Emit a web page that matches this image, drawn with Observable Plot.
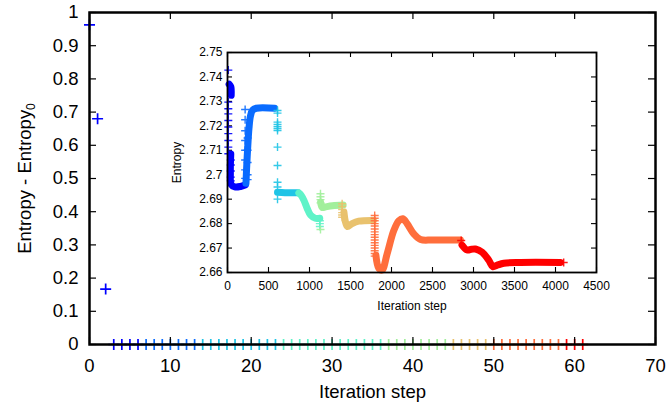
<!DOCTYPE html>
<html><head><meta charset="utf-8">
<script src="https://cdn.jsdelivr.net/npm/d3@7"></script>
<script src="https://cdn.jsdelivr.net/npm/@observablehq/plot@0.6"></script>
<style>
body{margin:0;background:#fff;}
.layer{position:absolute;left:0;top:0;width:668px;height:403px;}
</style></head><body>
<div class="layer" id="mainLayer"></div>
<div class="layer" id="frameLayer"></div>
<div class="layer" id="insetLayer"></div>
<script>
// ---- colours per phase ----
const phaseColors = ["#0000ff","#0a6cff","#1ec4e6","#5ff3c8","#a2ef9c","#e9c26e","#ff6e3c","#ff0000"];

// ---- main plot data ----
const mainIteration = [0,1,2,3,4,5,6,7,8,9,10,11,12,13,14,15,16,17,18,19,20,21,22,23,24,25,26,27,28,29,30,31,32,33,34,35,36,37,38,39,40,41,42,43,44,45,46,47,48,49,50,51,52,53,54,55,56,57,58,59,60,61];
const mainDelta = [0.963,0.680,0.167,0,0,0,0,0,0,0,0,0,0,0,0,0,0,0,0,0,0,0,0,0,0,0,0,0,0,0,0,0,0,0,0,0,0,0,0,0,0,0,0,0,0,0,0,0,0,0,0,0,0,0,0,0,0,0,0,0,0,0];
const mainPhase = [0,0,0,0,0,0,0,1,1,1,1,1,1,1,2,2,2,2,2,2,2,2,2,2,3,3,3,3,3,3,3,3,3,3,3,3,3,4,4,4,4,4,4,4,4,5,5,5,5,5,6,6,6,6,6,6,6,6,6,7,7,7];
const mainXDomain = [0,70];
const mainYDomain = [0,1];
const mainXTicks = [0,10,20,30,40,50,60,70];
const mainYTicks = [0,0.1,0.2,0.3,0.4,0.5,0.6,0.7,0.8,0.9,1];

// ---- inset data: thick curve pieces [step, entropy] ----
const curve0a = [[20,2.7370],[40,2.7360],[45,2.7325]];
const curve0b = [[40,2.7085],[35,2.7010],[45,2.6960],[90,2.6950],[160,2.6952],[215,2.6958]];
const curve1 = [[225,2.6965],[235,2.7040],[248,2.7120],[262,2.7190],[280,2.7240],[305,2.7264],[350,2.7272],[575,2.7272]];
const curve2 = [[610,2.6928],[700,2.6926],[860,2.6926]];
const curve3 = [[870,2.6925],[900,2.6915],[935,2.6893],[972,2.6862],[1012,2.6835],[1070,2.6822],[1125,2.6822]];
const curve4 = [[1135,2.6888],[1155,2.6866],[1190,2.6868],[1280,2.6873],[1410,2.6876]];
const curve5 = [[1420,2.6847],[1440,2.6805],[1462,2.6788],[1520,2.6800],[1600,2.6810],[1780,2.6813]];
const curve6 = [[1810,2.6670],[1845,2.6617],[1885,2.6610],[1947,2.6677],[2028,2.6772],[2090,2.6812],[2138,2.6820],[2190,2.6800],[2272,2.6758],[2354,2.6735],[2500,2.6733],[2840,2.6733]];
const curve7 = [[2860,2.6712],[2923,2.6692],[2975,2.6695],[3024,2.6696],[3106,2.6683],[3187,2.6650],[3235,2.6624],[3289,2.6630],[3370,2.6638],[3573,2.6641],[4060,2.6641]];
const curvePieces = [curve0a,curve0b,curve1,curve2,curve3,curve4,curve5,curve6,curve7];
const curvePhase = [0,0,1,2,3,4,5,6,7];

// ---- inset data: scattered crosses (step, entropies) ----
const crossStep = [10,40,215,245,610,1126,1134,1398,1795,2850,4100];
const crossPhase = [0,0,1,1,2,3,4,5,6,7,7];
const crossValues = [
  [2.7428,2.7297,2.7270,2.7249,2.7222,2.7195,2.7168,2.7140,2.7113,2.7086],
  [2.7060,2.7040,2.7015,2.6990,2.6975],
  [2.7267,2.7225,2.7180,2.7140,2.7100,2.7060,2.7020,2.6985],
  [2.7150,2.7100,2.7050,2.7000,2.6980],
  [2.7263,2.7252,2.7215,2.7206,2.7197,2.7189,2.7181,2.7113,2.7038,2.6969,2.6950,2.6900],
  [2.6812,2.6800,2.6788],
  [2.6922,2.6910,2.6898,2.6885,2.6776],
  [2.6881,2.6870,2.6858,2.6845,2.6835,2.6826],
  [2.6833,2.6822,2.6812,2.6800,2.6790,2.6778,2.6766,2.6755,2.6744,2.6733,2.6722,2.6711,2.6700,2.6689,2.6678,2.6667],
  [2.6731],
  [2.6641]
];
const insetXDomain = [0,4500];
const insetYDomain = [2.66,2.75];
const insetXTicks = [0,500,1000,1500,2000,2500,3000,3500,4000,4500];
const insetYTicks = [2.66,2.67,2.68,2.69,2.7,2.71,2.72,2.73,2.74,2.75];

// ---- helpers ----
const plus = {draw(ctx, size){const r=Math.sqrt(size/Math.PI);ctx.moveTo(-r,0);ctx.lineTo(r,0);ctx.moveTo(0,-r);ctx.lineTo(0,r);}};
const phaseDomain = [0,1,2,3,4,5,6,7];
const FONT = "'Liberation Sans', Arial, Helvetica, sans-serif";
const W = 668, H = 403;
const mL=89, mR=13, mT=12, mB=59;
const mpw = W-mL-mR, mph = H-mT-mB;

// ---- main chart: data, tick labels, axis titles ----
const main = Plot.plot({
  width:W, height:H, marginLeft:mL, marginRight:mR, marginTop:mT, marginBottom:mB,
  style:{fontFamily:FONT, fontSize:"18.5px", color:"#000", background:"transparent"},
  x:{domain:mainXDomain}, y:{domain:mainYDomain},
  color:{type:"ordinal", domain:phaseDomain, range:phaseColors},
  marks:[
    Plot.axisX(mainXTicks,{tickSize:0, tickPadding:14, label:"Iteration step", labelAnchor:"center", labelArrow:"none", labelOffset:53}),
    Plot.axisY(mainYTicks,{tickSize:0, tickPadding:11, tickFormat:d=>String(d), label:"Entropy - Entropy0", labelAnchor:"center", labelArrow:"none", labelOffset:72}),
    Plot.dot(mainIteration,{x:mainIteration, y:mainDelta, stroke:mainPhase, symbol:plus, r:5.5, strokeWidth:1.7, fill:"none"})
  ]
});

// ---- main chart: border and inward ticks (separate layer, same scales) ----
const mainFrame = Plot.plot({
  width:W, height:H, marginLeft:mL, marginRight:mR, marginTop:mT, marginBottom:mB,
  style:{fontSize:"12px", color:"#000", background:"transparent"},
  x:{domain:mainXDomain, axis:null}, y:{domain:mainYDomain, axis:null},
  marks:[
    Plot.tickY(mainYTicks,{y:d=>d, insetRight:mpw-7, stroke:"#000", strokeWidth:1.2}),
    Plot.tickY(mainYTicks,{y:d=>d, insetLeft:mpw-7, stroke:"#000", strokeWidth:1.2}),
    Plot.tickX(mainXTicks,{x:d=>d, insetTop:mph-7, stroke:"#000", strokeWidth:1.2}),
    Plot.tickX(mainXTicks,{x:d=>d, insetBottom:mph-7, stroke:"#000", strokeWidth:1.2}),
    Plot.frame({stroke:"#000", strokeWidth:2.5})
  ]
});

// ---- inset chart ----
const iL=227, iR=72, iT=52, iB=131;
const ipw = W-iL-iR, iph = H-iT-iB;
const curveRows = curvePieces.flatMap((pts,k)=>pts.map(p=>({step:p[0], value:p[1], piece:k, phase:curvePhase[k]})));
const crossRows = crossValues.flatMap((vals,k)=>vals.map(v=>({step:crossStep[k], value:v, phase:crossPhase[k]})));
const inset = Plot.plot({
  width:W, height:H, marginLeft:iL, marginRight:iR, marginTop:iT, marginBottom:iB,
  style:{fontFamily:FONT, fontSize:"12px", color:"#000", background:"transparent"},
  x:{domain:insetXDomain}, y:{domain:insetYDomain},
  color:{type:"ordinal", domain:phaseDomain, range:phaseColors},
  marks:[
    Plot.frame({fill:"#fff", stroke:"none"}),
    Plot.axisX(insetXTicks,{tickSize:0, tickPadding:9, fontSize:12, tickFormat:d=>String(d), label:"Iteration step", labelAnchor:"center", labelArrow:"none", labelOffset:37}),
    Plot.axisY(insetYTicks,{tickSize:0, tickPadding:5, fontSize:12, tickFormat:d=>String(d), label:"Entropy", labelAnchor:"center", labelArrow:"none", labelOffset:55}),
    Plot.tickY(insetYTicks,{y:d=>d, insetRight:ipw-5, stroke:"#000", strokeWidth:1.1}),
    Plot.tickY(insetYTicks,{y:d=>d, insetLeft:ipw-5, stroke:"#000", strokeWidth:1.1}),
    Plot.tickX(insetXTicks,{x:d=>d, insetTop:iph-5, stroke:"#000", strokeWidth:1.1}),
    Plot.tickX(insetXTicks,{x:d=>d, insetBottom:iph-5, stroke:"#000", strokeWidth:1.1}),
    Plot.line(curveRows,{x:"step", y:"value", z:"piece", stroke:"phase", strokeWidth:7, strokeLinecap:"round", strokeLinejoin:"round", curve:"catmull-rom"}),
    Plot.dot(crossRows,{x:"step", y:"value", stroke:"phase", symbol:plus, r:4, strokeWidth:1.4, fill:"none", strokeOpacity:0.9}),
    Plot.frame({stroke:"#000", strokeWidth:1.8})
  ]
});

document.getElementById("mainLayer").appendChild(main);
document.getElementById("frameLayer").appendChild(mainFrame);
document.getElementById("insetLayer").appendChild(inset);

// subscript for the main y label
const lab = d3.select(main).select('[aria-label="y-axis label"] text');
if (!lab.empty()) {
  lab.text(null);
  lab.append("tspan").text("Entropy - Entropy");
  lab.append("tspan").attr("font-size","12px").attr("dy","0.35em").text("0");
}
</script></body></html>
